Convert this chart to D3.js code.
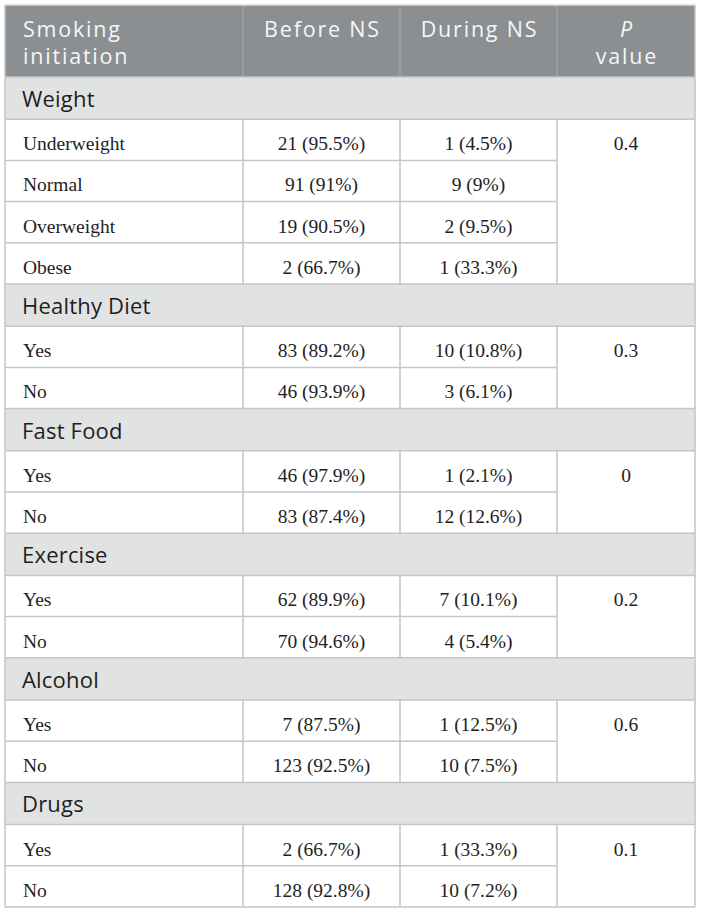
<!DOCTYPE html>
<html>
<head>
<meta charset="utf-8">
<script src="https://cdn.jsdelivr.net/npm/d3@7"></script>
<style>
  html, body { margin: 0; padding: 0; background: #ffffff; }
</style>
</head>
<body>
<svg id="chart"></svg>
<script>
// ── Data ──────────────────────────────────────────────────────────────────────
const headers = [['Smoking', 'initiation'], ['Before NS'], ['During NS'], ['P', 'value']];
const groups = ['Weight', 'Healthy Diet', 'Fast Food', 'Exercise', 'Alcohol', 'Drugs'];
const categories = [
  ['Underweight', 'Normal', 'Overweight', 'Obese'],
  ['Yes', 'No'],
  ['Yes', 'No'],
  ['Yes', 'No'],
  ['Yes', 'No'],
  ['Yes', 'No'],
];
const beforeN   = [[21, 91, 19, 2], [83, 46], [46, 83], [62, 70], [7, 123], [2, 128]];
const beforePct = [[95.5, 91, 90.5, 66.7], [89.2, 93.9], [97.9, 87.4], [89.9, 94.6], [87.5, 92.5], [66.7, 92.8]];
const duringN   = [[1, 9, 2, 1], [10, 3], [1, 12], [7, 4], [1, 10], [1, 10]];
const duringPct = [[4.5, 9, 9.5, 33.3], [10.8, 6.1], [2.1, 12.6], [10.1, 5.4], [12.5, 7.5], [33.3, 7.2]];
const pValues = [0.4, 0.3, 0, 0.2, 0.6, 0.1];

// ── Layout ────────────────────────────────────────────────────────────────────
const W = 701, H = 914;
const tLeft = 5, tRight = 695, tTop = 5;
const headerH = 72, sectionH = 42.2, rowH = 41.2;
const colEdges = [tLeft, 243, 400, 557, tRight];

const SANS  = '"Open Sans", "Noto Sans", sans-serif';
const SERIF = '"Liberation Serif", "DejaVu Serif", serif';
const BORDER = '#c3c5c6';

const svg = d3.select('#chart')
  .attr('width', W)
  .attr('height', H)
  .attr('viewBox', `0 0 ${W} ${H}`);

svg.append('rect').attr('width', W).attr('height', H).attr('fill', '#fff');

const colX = d3.scaleOrdinal().domain(d3.range(4)).range(colEdges.slice(0, 4));
const colW = i => colEdges[i + 1] - colEdges[i];
const colMid = i => colX(i) + colW(i) / 2;

// Build row list: sections + data rows, with y positions accumulated
const rows = [];
let yPos = tTop + headerH;
groups.forEach((g, gi) => {
  rows.push({ type: 'section', label: g, y: yPos, h: sectionH, gi });
  yPos += sectionH;
  categories[gi].forEach((c, ci) => {
    rows.push({
      type: 'data', label: c, y: yPos, h: rowH, gi, ci,
      before: `${beforeN[gi][ci]} (${beforePct[gi][ci]}%)`,
      during: `${duringN[gi][ci]} (${duringPct[gi][ci]}%)`,
    });
    yPos += rowH;
  });
});
const tBottom = yPos;

// ── Header ────────────────────────────────────────────────────────────────────
svg.append('rect')
  .attr('x', tLeft).attr('y', tTop)
  .attr('width', tRight - tLeft).attr('height', headerH)
  .attr('fill', '#8b8f92');

svg.append('g')
  .selectAll('line')
  .data([1, 2, 3])
  .join('line')
    .attr('x1', d => colX(d)).attr('x2', d => colX(d))
    .attr('y1', tTop).attr('y2', tTop + headerH)
    .attr('stroke', '#a3a7a9').attr('stroke-width', 1.2);

const head = svg.append('g').attr('class', 'header');
headers.forEach((lines, i) => {
  const t = head.append('text')
    .attr('font-family', SANS)
    .attr('font-size', 21.5)
    .attr('letter-spacing', 1.8)
    .attr('fill', '#f6f6f6')
    .attr('text-anchor', i === 0 ? 'start' : 'middle');
  lines.forEach((ln, li) => {
    t.append('tspan')
      .attr('x', i === 0 ? colX(0) + 18 : colMid(i) + 1)
      .attr('y', tTop + 32 + li * 26.5)
      .attr('font-style', ln === 'P' ? 'italic' : null)
      .text(ln);
  });
});

// ── Sections ──────────────────────────────────────────────────────────────────
const sections = rows.filter(r => r.type === 'section');
const sec = svg.append('g').attr('class', 'sections');
sec.selectAll('rect')
  .data(sections)
  .join('rect')
    .attr('x', tLeft).attr('y', d => d.y)
    .attr('width', tRight - tLeft).attr('height', d => d.h)
    .attr('fill', '#e1e3e3');
sec.selectAll('text')
  .data(sections)
  .join('text')
    .attr('x', colX(0) + 17)
    .attr('y', d => d.y + 30)
    .attr('font-family', SANS)
    .attr('font-size', 22)
    .attr('letter-spacing', 0.2)
    .attr('fill', '#1e1e1e')
    .text(d => d.label);

// ── Grid lines ────────────────────────────────────────────────────────────────
const grid = svg.append('g').attr('class', 'grid')
  .attr('stroke', BORDER).attr('stroke-width', 1.5);

// horizontal boundaries between rows (P column spans each group)
rows.forEach(r => {
  const first = r.type === 'section' || r.ci === 0;
  grid.append('line')
    .attr('x1', tLeft).attr('x2', first ? tRight : colX(3))
    .attr('y1', r.y).attr('y2', r.y);
});
grid.append('line').attr('x1', tLeft).attr('x2', tRight).attr('y1', tBottom).attr('y2', tBottom);

// vertical lines within data blocks
const dataRows = rows.filter(r => r.type === 'data');
grid.selectAll('line.v')
  .data(dataRows.flatMap(r => [1, 2, 3].map(c => ({ r, c }))))
  .join('line')
    .attr('class', 'v')
    .attr('x1', d => colX(d.c)).attr('x2', d => colX(d.c))
    .attr('y1', d => d.r.y).attr('y2', d => d.r.y + d.r.h);
// outer borders
grid.append('line').attr('x1', tLeft).attr('x2', tLeft).attr('y1', tTop).attr('y2', tBottom);
grid.append('line').attr('x1', tRight).attr('x2', tRight).attr('y1', tTop).attr('y2', tBottom);
grid.append('line').attr('x1', tLeft).attr('x2', tRight).attr('y1', tTop).attr('y2', tTop)
  .attr('stroke', '#d8d9da');

// ── Data cells ────────────────────────────────────────────────────────────────
const cells = svg.append('g').attr('class', 'cells')
  .attr('font-family', SERIF).attr('font-size', 19.5).attr('fill', '#1e1e1e');

cells.selectAll('text.lab')
  .data(dataRows)
  .join('text')
    .attr('class', 'lab')
    .attr('x', colX(0) + 18)
    .attr('y', d => d.y + 31)
    .text(d => d.label);

[['before', 1], ['during', 2]].forEach(([key, c]) => {
  cells.selectAll(`text.${key}`)
    .data(dataRows)
    .join('text')
      .attr('class', key)
      .attr('x', colMid(c))
      .attr('y', d => d.y + 31)
      .attr('text-anchor', 'middle')
      .text(d => d[key]);
});

cells.selectAll('text.p')
  .data(dataRows.filter(r => r.ci === 0))
  .join('text')
    .attr('class', 'p')
    .attr('x', colMid(3))
    .attr('y', d => d.y + 31)
    .attr('text-anchor', 'middle')
    .text(d => String(pValues[d.gi]));
</script>
</body>
</html>
